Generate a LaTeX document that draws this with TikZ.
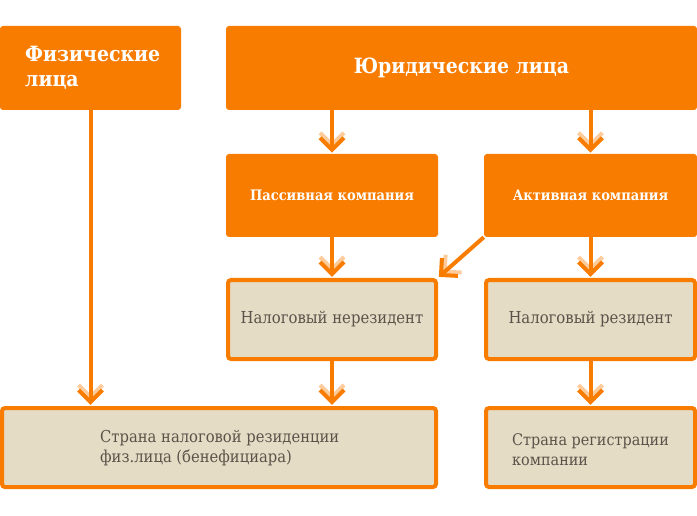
\documentclass[tikz,border=0pt]{standalone}
\usepackage{fontspec}
\setmainfont{DejaVu Serif Condensed}
\usetikzlibrary{calc}
\definecolor{orng}{HTML}{F87C00}
\definecolor{ghost}{HTML}{FDCB9C}
\definecolor{beige}{HTML}{E5DCC6}
\definecolor{txtgray}{HTML}{5C5249}
\tikzset{
  solidbox/.style={fill=orng, draw=none, rounded corners=3pt, inner sep=0pt},
  framebox/.style={fill=beige, draw=orng, line width=4pt, rounded corners=3pt, inner sep=0pt},
  whitetxt/.style={text=white, font=\bfseries, inner sep=0pt},
  graytxt/.style={text=txtgray, inner sep=0pt},
  link/.style={draw=orng, line width=4pt},
  ghostchev/.pic={\draw[ghost, line width=4pt, miter limit=10] (-12pt,17pt) -- (0,5pt) -- (12pt,17pt);},
  darkchev/.pic={\draw[orng, line width=4pt, miter limit=10] (-12pt,12pt) -- (0,0) -- (12pt,12pt);}
}
\newcommand\myconn[3]{%
  \pic[rotate=#3] at (#2) {ghostchev};
  \draw[link] (#1) -- (#2);
  \pic[rotate=#3] at (#2) {darkchev};
}
\begin{document}
\begin{tikzpicture}[x=1pt,y=1pt]
\useasboundingbox (0,0) rectangle (697,-516);
% top row
\node[solidbox, minimum width=181pt, minimum height=84pt] (fiz) at (90.5,-68) {};
\node[whitetxt, anchor=west, align=left, font=\bfseries\fontsize{21}{25}\selectfont] (fiztxt) at (25,-68) {Физические\\лица};
\node[solidbox, minimum width=471pt, minimum height=84pt, whitetxt, font=\bfseries\fontsize{21}{25}\selectfont] (yur) at (461.5,-68) {Юридические лица};
% second row
\node[solidbox, minimum width=212pt, minimum height=83pt, whitetxt, font=\bfseries\fontsize{14.5}{18}\selectfont] (pas) at (332,-195.5) {Пассивная компания};
\node[solidbox, minimum width=213pt, minimum height=83pt, whitetxt, font=\bfseries\fontsize{14.5}{18}\selectfont] (akt) at (590.5,-195.5) {Активная компания};
% third row
\node[framebox, minimum width=208pt, minimum height=79pt, graytxt, font=\fontsize{16.5}{20}\selectfont] (nerez) at (332,-319.5) {Налоговый нерезидент};
\node[framebox, minimum width=209pt, minimum height=79pt, graytxt, font=\fontsize{16.5}{20}\selectfont] (rez) at (590.5,-319.5) {Налоговый резидент};
% bottom row
\node[framebox, minimum width=434pt, minimum height=79pt] (s1) at (219,-447.5) {};
\node[graytxt, anchor=west, align=left, font=\fontsize{16.4}{20}\selectfont] (s1txt) at (100,-448) {Страна налоговой резиденции\\физ.лица (бенефициара)};
\node[framebox, minimum width=209pt, minimum height=79pt] (s2) at (590.5,-447.5) {};
\node[graytxt, anchor=west, align=left, font=\fontsize{16}{20}\selectfont] (s2txt) at (512,-450) {Страна регистрации\\компании};
% tip coordinates
\coordinate (tpas) at ($(pas.north)+(0,4pt)$);
\coordinate (takt) at ($(akt.north)+(0,4pt)$);
\coordinate (tnerez) at ($(nerez.north)+(0,4pt)$);
\coordinate (trez) at ($(rez.north)+(0,4pt)$);
\coordinate (ts1a) at ($(fiz.south |- s1.north)+(0,4pt)$);
\coordinate (ts1b) at ($(nerez.south |- s1.north)+(0,4pt)$);
\coordinate (ts2) at ($(s2.north)+(0,4pt)$);
\coordinate (tdiag) at ($(nerez.north east)+(3pt,3pt)$);
% connectors
\myconn{pas.north |- yur.south}{tpas}{0}
\myconn{akt.north |- yur.south}{takt}{0}
\myconn{pas.south}{tnerez}{0}
\myconn{akt.south}{trez}{0}
\myconn{fiz.south}{ts1a}{0}
\myconn{nerez.south}{ts1b}{0}
\myconn{rez.south}{ts2}{0}
\myconn{akt.south west}{tdiag}{-48}
\end{tikzpicture}
\end{document}
